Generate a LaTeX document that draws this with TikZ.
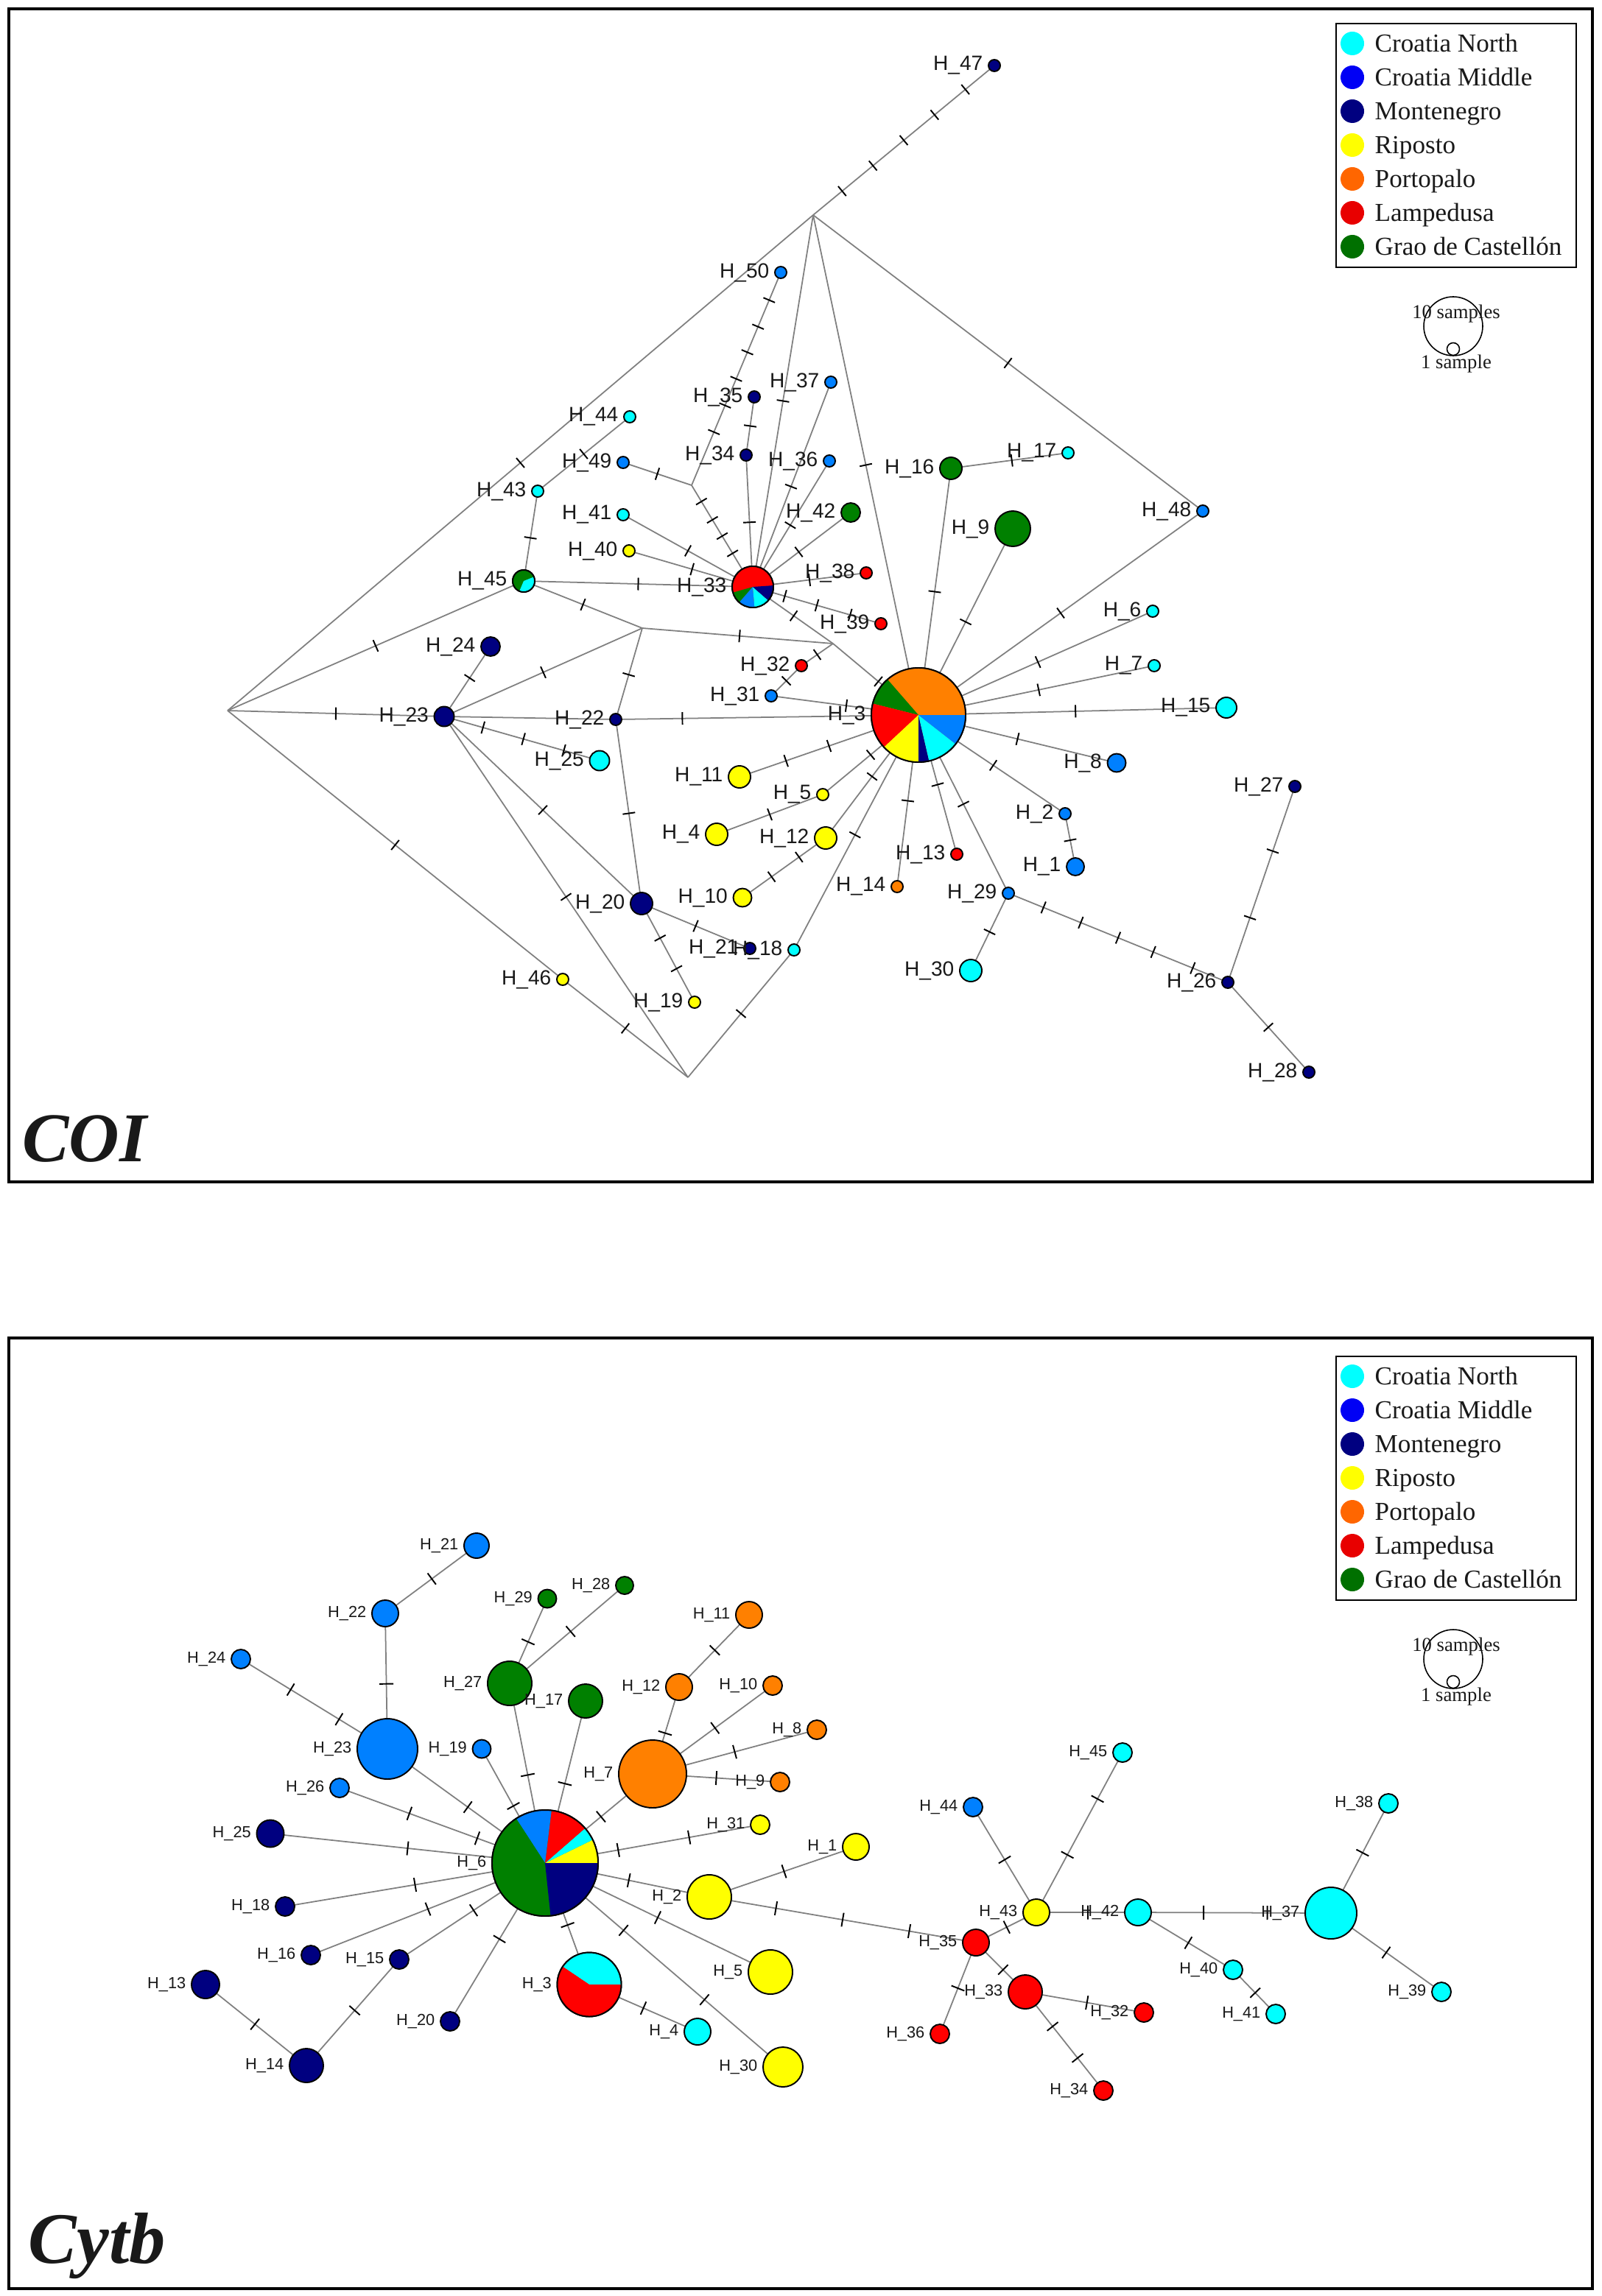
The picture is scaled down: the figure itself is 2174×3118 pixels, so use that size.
\documentclass[tikz,border=0pt]{standalone}
\usepackage{fontspec}
\setmainfont{Liberation Serif}
\newfontfamily\labfont{Liberation Sans}
\pgfdeclarelayer{paper}
\pgfdeclarelayer{background}
\pgfsetlayers{paper,background,main}
\definecolor{kCyan}{RGB}{0,255,255}
\definecolor{kBlue}{RGB}{0,128,255}
\definecolor{kNavy}{RGB}{0,0,128}
\definecolor{kYel}{RGB}{255,255,0}
\definecolor{kOra}{RGB}{255,128,0}
\definecolor{kRed}{RGB}{255,0,0}
\definecolor{kGrn}{RGB}{0,128,0}
\definecolor{gCyan}{RGB}{0,255,255}
\definecolor{gBlue}{RGB}{0,0,245}
\definecolor{gNavy}{RGB}{0,0,128}
\definecolor{gYel}{RGB}{255,255,0}
\definecolor{gOra}{RGB}{255,102,0}
\definecolor{gRed}{RGB}{232,0,0}
\definecolor{gGrn}{RGB}{0,112,0}
\definecolor{lnkgray}{RGB}{128,128,128}
\definecolor{txt}{RGB}{25,25,25}

\newcommand\pieslice[5]{\fill[#5] (#1.center) -- ++(#3:#2) arc[start angle=#3, end angle=#4, radius=#2] -- cycle;}
\newcommand\pieoutline[2]{\draw[line width=0.55pt] (#1.center) circle[radius=#2];}
\newcommand\legendbox[2]{%
  \node[draw=black, line width=0.6pt, inner sep=0pt, minimum width=32.6mm, minimum height=33.1mm, anchor=north west] (#1box) at (1813,{31+#2}) {};
  \foreach \c/\t [count=\k] in {gCyan/Croatia North, gBlue/Croatia Middle, gNavy/Montenegro, gYel/Riposto, gOra/Portopalo, gRed/Lampedusa, gGrn/Grao de Castellón}{
    \node[circle, fill=\c, inner sep=0pt, minimum size=3.2mm] (#1d\k) at (1836,{59+46*(\k-1)+#2}) {};
    \node[anchor=base west, font=\fontsize{10}{12}\selectfont, text=txt, inner sep=0pt] (#1t\k) at (1866,{70.5+46*(\k-1)+#2}) {\t};
  }
  \node[circle, draw=black, line width=0.45pt, inner sep=0pt, minimum size=8mm] (#1big) at (1973,{443+#2}) {};
  \node[circle, draw=black, line width=0.45pt, inner sep=0pt, minimum size=1.7mm] (#1sm) at (1973,{474+#2}) {};
  \node[anchor=base, font=\fontsize{7.6}{9}\selectfont, text=txt, inner sep=0pt] (#1ten) at (1977,{432+#2}) {10 samples};
  \node[anchor=base, font=\fontsize{7.6}{9}\selectfont, text=txt, inner sep=0pt] (#1one) at (1977,{500+#2}) {1 sample};
}

\begin{document}
\begin{tikzpicture}[x=0.1mm, y=-0.1mm, label distance=0.6mm,
  hn/.style={circle, draw=black, line width=0.55pt, inner sep=0pt, minimum size=#1},
  lnk/.style={draw=lnkgray, line width=0.5pt},
  tk/.style={sloped, rectangle, draw=black, line width=0.55pt, inner sep=0pt, minimum width=0pt, minimum height=#1},
  mk/.style={tk=1.7mm, pos=#1},
  mkb/.style={tk=1.9mm, pos=#1},
  la/.style={label={[font=\labfont\fontsize{8}{9}\selectfont, text=txt, inner sep=0pt]left:#1}},
  lb/.style={label={[font=\labfont\fontsize{6.2}{7}\selectfont, text=txt, inner sep=0pt]left:#1}}]
\useasboundingbox (0,0) rectangle (2174,3118);
\begin{pgfonlayer}{paper}
\fill[white] (0,0) rectangle (2174,3118);
\end{pgfonlayer}
\draw[line width=1.2pt] (12,12) rectangle (2162,1605);
\draw[line width=1.2pt] (12,1817) rectangle (2162,3108);
\node[anchor=base west, inner sep=0pt, text=txt, font=\fontsize{27}{30}\selectfont\bfseries\itshape] (tCOI) at (30,1577) {COI};
\node[anchor=base west, inner sep=0pt, text=txt, font=\fontsize{28}{31}\selectfont\bfseries\itshape] (tCYT) at (38,3073) {Cytb};
\legendbox{c}{0}
\legendbox{y}{1810}

% ---------------- COI ----------------
\coordinate (apexT) at (1104,292);
\coordinate (apexL) at (309,965);
\coordinate (apexB) at (934,1463);
\coordinate (mv1) at (939,659);
\coordinate (mv2) at (872,853);
\coordinate (mv3) at (1131,874);

\node[hn=1.6mm, fill=kNavy, la={H\_47}] (A47) at (1350,89) {};
\node[hn=1.6mm, fill=kBlue, la={H\_50}] (A50) at (1060,370) {};
\node[hn=1.6mm, fill=kBlue, la={H\_37}] (A37) at (1128,519) {};
\node[hn=1.6mm, fill=kNavy, la={H\_35}] (A35) at (1024,539) {};
\node[hn=1.6mm, fill=kCyan, la={H\_44}] (A44) at (855,566) {};
\node[hn=1.6mm, fill=kNavy, la={H\_34}] (A34) at (1013,618) {};
\node[hn=1.6mm, fill=kBlue, la={H\_36}] (A36) at (1126,626) {};
\node[hn=1.6mm, fill=kBlue, la={H\_49}] (A49) at (846,628) {};
\node[hn=3mm, fill=kGrn, la={H\_16}] (A16) at (1291,636) {};
\node[hn=1.6mm, fill=kCyan, la={H\_17}] (A17) at (1450,615) {};
\node[hn=1.6mm, fill=kCyan, la={H\_43}] (A43) at (730,667) {};
\node[hn=1.6mm, fill=kCyan, la={H\_41}] (A41) at (846,699) {};
\node[hn=2.6mm, fill=kGrn, la={H\_42}] (A42) at (1155,696) {};
\node[hn=1.6mm, fill=kBlue, la={H\_48}] (A48) at (1633,694) {};
\node[hn=4.8mm, fill=kGrn, la={H\_9}] (A9) at (1375,718) {};
\node[hn=1.6mm, fill=kYel, la={H\_40}] (A40) at (854,748) {};
\node[hn=1.6mm, fill=kRed, la={H\_38}] (A38) at (1176,778) {};
\node[hn=3mm, fill=kGrn, la={H\_45}] (A45) at (711,789) {};
\node[hn=5.6mm, fill=kRed, la={H\_33}] (A33) at (1022,797) {};
\node[hn=1.6mm, fill=kRed, la={H\_39}] (A39) at (1196,847) {};
\node[hn=1.6mm, fill=kCyan, la={H\_6}] (A6) at (1565,830) {};
\node[hn=2.6mm, fill=kNavy, la={H\_24}] (A24) at (666,878) {};
\node[hn=1.6mm, fill=kRed, la={H\_32}] (A32) at (1088,904) {};
\node[hn=1.6mm, fill=kCyan, la={H\_7}] (A7) at (1567,904) {};
\node[hn=1.6mm, fill=kBlue, la={H\_31}] (A31) at (1047,945) {};
\node[hn=12.8mm, fill=kOra, la={H\_3}] (A3) at (1247,971) {};
\node[hn=2.7mm, fill=kNavy, la={H\_23}] (A23) at (603,973) {};
\node[hn=1.6mm, fill=kNavy, la={H\_22}] (A22) at (836,977) {};
\node[hn=2.8mm, fill=kCyan, la={H\_15}] (A15) at (1665,961) {};
\node[hn=2.7mm, fill=kCyan, la={H\_25}] (A25) at (814,1033) {};
\node[hn=2.5mm, fill=kBlue, la={H\_8}] (A8) at (1516,1036) {};
\node[hn=3mm, fill=kYel, la={H\_11}] (A11) at (1004,1055) {};
\node[hn=1.6mm, fill=kYel, la={H\_5}] (A5) at (1117,1079) {};
\node[hn=1.6mm, fill=kNavy, la={H\_27}] (A27) at (1758,1068) {};
\node[hn=1.6mm, fill=kBlue, la={H\_2}] (A2) at (1446,1105) {};
\node[hn=3mm, fill=kYel, la={H\_4}] (A4) at (973,1133) {};
\node[hn=3mm, fill=kYel, la={H\_12}] (A12) at (1121,1138) {};
\node[hn=1.6mm, fill=kRed, la={H\_13}] (A13) at (1299,1160) {};
\node[hn=2.4mm, fill=kBlue, la={H\_1}] (A1) at (1460,1177) {};
\node[hn=1.6mm, fill=kOra, la={H\_14}] (A14) at (1218,1204) {};
\node[hn=1.6mm, fill=kBlue, la={H\_29}] (A29) at (1369,1213) {};
\node[hn=3mm, fill=kNavy, la={H\_20}] (A20) at (871,1227) {};
\node[hn=2.5mm, fill=kYel, la={H\_10}] (A10) at (1008,1219) {};
\node[hn=1.6mm, fill=kNavy, la={H\_21}] (A21) at (1018,1288) {};
\node[hn=1.6mm, fill=kCyan, la={H\_18}] (A18) at (1078,1290) {};
\node[hn=3mm, fill=kCyan, la={H\_30}] (A30) at (1318,1318) {};
\node[hn=1.6mm, fill=kNavy, la={H\_26}] (A26) at (1667,1334) {};
\node[hn=1.6mm, fill=kYel, la={H\_46}] (A46) at (764,1330) {};
\node[hn=1.6mm, fill=kYel, la={H\_19}] (A19) at (943,1361) {};
\node[hn=1.6mm, fill=kNavy, la={H\_28}] (A28) at (1777,1456) {};

% COI pies
\pieslice{A3}{6.4mm}{0}{131}{kOra}
\pieslice{A3}{6.4mm}{131}{166}{kGrn}
\pieslice{A3}{6.4mm}{166}{223}{kRed}
\pieslice{A3}{6.4mm}{223}{270}{kYel}
\pieslice{A3}{6.4mm}{270}{283}{kNavy}
\pieslice{A3}{6.4mm}{283}{322}{kCyan}
\pieslice{A3}{6.4mm}{322}{360}{kBlue}
\pieoutline{A3}{6.4mm}
\pieslice{A33}{2.8mm}{4}{196}{kRed}
\pieslice{A33}{2.8mm}{196}{229}{kGrn}
\pieslice{A33}{2.8mm}{229}{275}{kBlue}
\pieslice{A33}{2.8mm}{275}{319}{kCyan}
\pieslice{A33}{2.8mm}{319}{364}{kNavy}
\pieoutline{A33}{2.8mm}
\pieslice{A45}{1.5mm}{22}{247}{kGrn}
\pieslice{A45}{1.5mm}{247}{382}{kCyan}
\pieoutline{A45}{1.5mm}

\begin{pgfonlayer}{background}
\draw[lnk] (apexT.center) -- node[mk=.16]{} node[mk=.33]{} node[mk=.5]{} node[mk=.67]{} node[mk=.84]{} (A47.center);
\draw[lnk] (apexT.center) -- node[mk=.5]{} (apexL.center);
\draw[lnk] (apexT.center) -- node[mk=.5]{} (A48.center);
\draw[lnk] (A48.center) -- node[mk=.5]{} (A3.center);
\draw[lnk] (apexT.center) -- node[mk=.5]{} (A3.center);
\draw[lnk] (apexT.center) -- node[mk=.5]{} (A33.center);
\draw[lnk] (A50.center) -- node[mk=.13]{} node[mk=.255]{} node[mk=.375]{} node[mk=.5]{} node[mk=.625]{} node[mk=.75]{} (mv1.center);
\draw[lnk] (mv1.center) -- node[mk=.16]{} node[mk=.34]{} node[mk=.5]{} node[mk=.67]{} (A33.center);
\draw[lnk] (A49.center) -- node[mk=.5]{} (mv1.center);
\draw[lnk] (A35.center) -- node[mk=.5]{} (A34.center);
\draw[lnk] (A34.center) -- node[mk=.51]{} (A33.center);
\draw[lnk] (A37.center) -- node[mk=.51]{} (A33.center);
\draw[lnk] (A36.center) -- node[mk=.51]{} (A33.center);
\draw[lnk] (A42.center) -- node[mk=.53]{} (A33.center);
\draw[lnk] (A44.center) -- node[mk=.5]{} (A43.center);
\draw[lnk] (A43.center) -- node[mk=.52]{} (A45.center);
\draw[lnk] (A41.center) -- node[mk=.5]{} (A33.center);
\draw[lnk] (A40.center) -- node[mk=.51]{} (A33.center);
\draw[lnk] (A45.center) -- node[mk=.5]{} (A33.center);
\draw[lnk] (A33.center) -- node[mk=.5]{} (A38.center);
\draw[lnk] (A33.center) -- node[mk=.25]{} node[mk=.5]{} node[mk=.76]{} (A39.center);
\draw[lnk] (A33.center) -- node[mk=.51]{} (mv3.center);
\draw[lnk] (mv3.center) -- node[mk=.53]{} (A3.center);
\draw[lnk] (A45.center) -- node[mk=.5]{} (mv2.center);
\draw[lnk] (mv2.center) -- node[mk=.51]{} (mv3.center);
\draw[lnk] (mv3.center) -- node[mk=.5]{} (A32.center);
\draw[lnk] (A32.center) -- node[mk=.5]{} (A31.center);
\draw[lnk] (A31.center) -- node[mk=.51]{} (A3.center);
\draw[lnk] (A16.center) -- node[mk=.52]{} (A17.center);
\draw[lnk] (A16.center) -- node[mk=.5]{} (A3.center);
\draw[lnk] (A9.center) -- node[mk=.5]{} (A3.center);
\draw[lnk] (A6.center) -- node[mk=.49]{} (A3.center);
\draw[lnk] (A7.center) -- node[mk=.49]{} (A3.center);
\draw[lnk] (A15.center) -- node[mk=.49]{} (A3.center);
\draw[lnk] (A8.center) -- node[mk=.5]{} (A3.center);
\draw[lnk] (A2.center) -- node[mk=.49]{} (A3.center);
\draw[lnk] (A2.center) -- node[mk=.5]{} (A1.center);
\draw[lnk] (A29.center) -- node[mk=.5]{} (A3.center);
\draw[lnk] (A13.center) -- node[mk=.5]{} (A3.center);
\draw[lnk] (A14.center) -- node[mk=.5]{} (A3.center);
\draw[lnk] (A18.center) -- node[mk=.49]{} (A3.center);
\draw[lnk] (A18.center) -- node[mk=.5]{} (apexB.center);
\draw[lnk] (A12.center) -- node[mk=.5]{} (A3.center);
\draw[lnk] (A10.center) -- node[mk=.35]{} node[mk=.68]{} (A12.center);
\draw[lnk] (A11.center) -- node[mk=.26]{} node[mk=.5]{} (A3.center);
\draw[lnk] (A5.center) -- node[mk=.5]{} (A3.center);
\draw[lnk] (A4.center) -- node[mk=.5]{} (A5.center);
\draw[lnk] (apexL.center) -- node[mk=.5]{} (A45.center);
\draw[lnk] (apexL.center) -- node[mk=.5]{} (A23.center);
\draw[lnk] (apexL.center) -- node[mk=.5]{} (A46.center);
\draw[lnk] (A46.center) -- node[mk=.5]{} (apexB.center);
\draw[lnk] (A23.center) -- node[mk=.55]{} (A24.center);
\draw[lnk] (A23.center) -- node[mk=.5]{} (mv2.center);
\draw[lnk] (A23.center) -- (A22.center);
\draw[lnk] (A22.center) -- node[mk=.22]{} (A3.center);
\draw[lnk] (A23.center) -- node[mk=.25]{} node[mk=.51]{} node[mk=.77]{} (A25.center);
\draw[lnk] (A23.center) -- node[mk=.5]{} (A20.center);
\draw[lnk] (A23.center) -- node[mk=.5]{} (apexB.center);
\draw[lnk] (mv2.center) -- node[mk=.51]{} (A22.center);
\draw[lnk] (A22.center) -- node[mk=.51]{} (A20.center);
\draw[lnk] (A20.center) -- node[mk=.5]{} (A21.center);
\draw[lnk] (A20.center) -- node[mk=.35]{} node[mk=.66]{} (A19.center);
\draw[lnk] (A29.center) -- node[mk=.5]{} (A30.center);
\draw[lnk] (A29.center) -- node[mk=.16]{} node[mk=.33]{} node[mk=.5]{} node[mk=.66]{} node[mk=.84]{} (A26.center);
\draw[lnk] (A26.center) -- node[mk=.33]{} node[mk=.67]{} (A27.center);
\draw[lnk] (A26.center) -- node[mk=.5]{} (A28.center);
\end{pgfonlayer}

% ---------------- Cytb ----------------
\node[hn=3.4mm, fill=kBlue, lb={H\_21}] (B21) at (647,2099) {};
\node[hn=2.4mm, fill=kGrn, lb={H\_28}] (B28) at (848,2153) {};
\node[hn=2.5mm, fill=kGrn, lb={H\_29}] (B29) at (743,2171) {};
\node[hn=3.6mm, fill=kBlue, lb={H\_22}] (B22) at (523,2191) {};
\node[hn=3.6mm, fill=kOra, lb={H\_11}] (B11) at (1017,2193) {};
\node[hn=2.6mm, fill=kBlue, lb={H\_24}] (B24) at (327,2253) {};
\node[hn=6mm, fill=kGrn, lb={H\_27}] (B27) at (692,2286) {};
\node[hn=3.6mm, fill=kOra, lb={H\_12}] (B12) at (922,2291) {};
\node[hn=2.6mm, fill=kOra, lb={H\_10}] (B10) at (1049,2289) {};
\node[hn=4.6mm, fill=kGrn, lb={H\_17}] (B17) at (795,2310) {};
\node[hn=2.6mm, fill=kOra, lb={H\_8}] (B8) at (1109,2349) {};
\node[hn=8.2mm, fill=kBlue, lb={H\_23}] (B23) at (526,2375) {};
\node[hn=2.5mm, fill=kBlue, lb={H\_19}] (B19) at (654,2375) {};
\node[hn=9.2mm, fill=kOra, lb={H\_7}] (B7) at (886,2409) {};
\node[hn=2.6mm, fill=kOra, lb={H\_9}] (B9) at (1059,2420) {};
\node[hn=2.6mm, fill=kBlue, lb={H\_26}] (B26) at (461,2428) {};
\node[hn=2.6mm, fill=kYel, lb={H\_31}] (B31) at (1032,2478) {};
\node[hn=3.7mm, fill=kNavy, lb={H\_25}] (B25) at (367,2490) {};
\node[hn=3.6mm, fill=kYel, lb={H\_1}] (B1) at (1162,2508) {};
\node[hn=14.4mm, fill=kGrn, lb={H\_6}] (B6) at (740,2530) {};
\node[hn=6mm, fill=kYel, lb={H\_2}] (B2) at (963,2576) {};
\node[hn=2.6mm, fill=kNavy, lb={H\_18}] (B18) at (387,2589) {};
\node[hn=2.6mm, fill=kNavy, lb={H\_16}] (B16) at (422,2655) {};
\node[hn=2.6mm, fill=kNavy, lb={H\_15}] (B15) at (542,2661) {};
\node[hn=6mm, fill=kYel, lb={H\_5}] (B5) at (1046,2678) {};
\node[hn=8.7mm, fill=kRed, lb={H\_3}] (B3) at (800,2695) {};
\node[hn=3.8mm, fill=kNavy, lb={H\_13}] (B13) at (279,2695) {};
\node[hn=2.6mm, fill=kNavy, lb={H\_20}] (B20) at (611,2745) {};
\node[hn=3.6mm, fill=kCyan, lb={H\_4}] (B4) at (947,2759) {};
\node[hn=4.6mm, fill=kNavy, lb={H\_14}] (B14) at (416,2805) {};
\node[hn=5.4mm, fill=kYel, lb={H\_30}] (B30) at (1063,2807) {};
\node[hn=2.6mm, fill=kCyan, lb={H\_45}] (B45) at (1524,2380) {};
\node[hn=2.6mm, fill=kBlue, lb={H\_44}] (B44) at (1321,2454) {};
\node[hn=2.6mm, fill=kCyan, lb={H\_38}] (B38) at (1885,2449) {};
\node[hn=3.6mm, fill=kYel, lb={H\_43}] (B43) at (1407,2597) {};
\node[hn=3.6mm, fill=kCyan, lb={H\_42}] (B42) at (1545,2597) {};
\node[hn=7mm, fill=kCyan, lb={H\_37}] (B37) at (1807,2598) {};
\node[hn=3.6mm, fill=kRed, lb={H\_35}] (B35) at (1325,2638) {};
\node[hn=2.6mm, fill=kCyan, lb={H\_40}] (B40) at (1674,2675) {};
\node[hn=4.6mm, fill=kRed, lb={H\_33}] (B33) at (1392,2705) {};
\node[hn=2.6mm, fill=kCyan, lb={H\_39}] (B39) at (1957,2705) {};
\node[hn=2.6mm, fill=kRed, lb={H\_32}] (B32) at (1553,2733) {};
\node[hn=2.6mm, fill=kCyan, lb={H\_41}] (B41) at (1732,2735) {};
\node[hn=2.6mm, fill=kRed, lb={H\_36}] (B36) at (1276,2762) {};
\node[hn=2.6mm, fill=kRed, lb={H\_34}] (B34) at (1498,2839) {};

% Cytb pies
\pieslice{B6}{7.2mm}{0}{26}{kYel}
\pieslice{B6}{7.2mm}{26}{41}{kCyan}
\pieslice{B6}{7.2mm}{41}{83}{kRed}
\pieslice{B6}{7.2mm}{83}{123}{kBlue}
\pieslice{B6}{7.2mm}{123}{276}{kGrn}
\pieslice{B6}{7.2mm}{276}{360}{kNavy}
\pieoutline{B6}{7.2mm}
\pieslice{B3}{4.35mm}{0}{146}{kCyan}
\pieslice{B3}{4.35mm}{146}{360}{kRed}
\pieoutline{B3}{4.35mm}

\begin{pgfonlayer}{background}
\draw[lnk] (B21.center) -- node[mkb=.49]{} (B22.center);
\draw[lnk] (B22.center) -- node[mkb=.52]{} (B23.center);
\draw[lnk] (B24.center) -- node[mkb=.34]{} node[mkb=.67]{} (B23.center);
\draw[lnk] (B23.center) -- node[mkb=.51]{} (B6.center);
\draw[lnk] (B29.center) -- node[mkb=.51]{} (B27.center);
\draw[lnk] (B28.center) -- node[mkb=.47]{} (B27.center);
\draw[lnk] (B27.center) -- node[mkb=.51]{} (B6.center);
\draw[lnk] (B17.center) -- node[mkb=.51]{} (B6.center);
\draw[lnk] (B19.center) -- node[mkb=.5]{} (B6.center);
\draw[lnk] (B26.center) -- node[mkb=.34]{} node[mkb=.67]{} (B6.center);
\draw[lnk] (B25.center) -- node[mkb=.5]{} (B6.center);
\draw[lnk] (B18.center) -- node[mkb=.5]{} (B6.center);
\draw[lnk] (B16.center) -- node[mkb=.5]{} (B6.center);
\draw[lnk] (B15.center) -- node[mkb=.51]{} (B6.center);
\draw[lnk] (B20.center) -- node[mkb=.52]{} (B6.center);
\draw[lnk] (B13.center) -- node[mkb=.49]{} (B14.center);
\draw[lnk] (B14.center) -- node[mkb=.52]{} (B15.center);
\draw[lnk] (B3.center) -- node[mkb=.49]{} (B6.center);
\draw[lnk] (B3.center) -- node[mkb=.5]{} (B4.center);
\draw[lnk] (B7.center) -- node[mkb=.48]{} (B6.center);
\draw[lnk] (B12.center) -- node[mkb=.53]{} (B7.center);
\draw[lnk] (B11.center) -- node[mkb=.49]{} (B12.center);
\draw[lnk] (B10.center) -- node[mkb=.48]{} (B7.center);
\draw[lnk] (B8.center) -- node[mkb=.5]{} (B7.center);
\draw[lnk] (B9.center) -- node[mkb=.5]{} (B7.center);
\draw[lnk] (B6.center) -- node[mkb=.34]{} node[mkb=.67]{} (B31.center);
\draw[lnk] (B6.center) -- node[mkb=.51]{} (B2.center);
\draw[lnk] (B2.center) -- node[mkb=.51]{} (B1.center);
\draw[lnk] (B6.center) -- node[mkb=.5]{} (B5.center);
\draw[lnk] (B6.center) -- node[mkb=.33]{} node[mkb=.67]{} (B30.center);
\draw[lnk] (B2.center) -- node[mkb=.25]{} node[mkb=.5]{} node[mkb=.75]{} (B35.center);
\draw[lnk] (B35.center) -- node[mkb=.51]{} (B43.center);
\draw[lnk] (B43.center) -- node[mkb=.5]{} (B44.center);
\draw[lnk] (B43.center) -- node[mkb=.36]{} node[mkb=.71]{} (B45.center);
\draw[lnk] (B43.center) -- node[mkb=.51]{} (B42.center);
\draw[lnk] (B42.center) -- node[mkb=.34]{} node[mkb=.67]{} (B37.center);
\draw[lnk] (B42.center) -- node[mkb=.53]{} (B40.center);
\draw[lnk] (B40.center) -- node[mkb=.52]{} (B41.center);
\draw[lnk] (B37.center) -- node[mkb=.55]{} (B38.center);
\draw[lnk] (B37.center) -- node[mkb=.5]{} (B39.center);
\draw[lnk] (B35.center) -- node[mkb=.55]{} (B33.center);
\draw[lnk] (B35.center) -- node[mkb=.5]{} (B36.center);
\draw[lnk] (B33.center) -- node[mkb=.52]{} (B32.center);
\draw[lnk] (B33.center) -- node[mkb=.35]{} node[mkb=.67]{} (B34.center);
\end{pgfonlayer}
\end{tikzpicture}
\end{document}
